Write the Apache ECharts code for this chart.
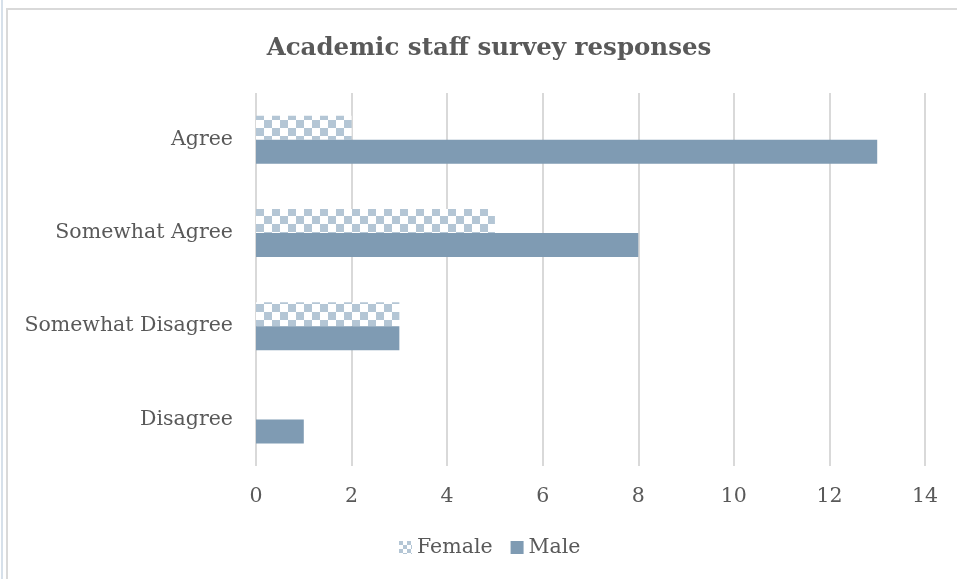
<!DOCTYPE html>
<html>
<head>
<meta charset="utf-8">
<script src="https://cdn.jsdelivr.net/npm/echarts@6/dist/echarts.min.js"></script>
<style>
  html, body { margin: 0; padding: 0; background: #ffffff; }
  #frame { position: absolute; left: 6px; top: 8px; width: 960px; height: 580px;
           border-left: 2px solid #d9d9d9; border-top: 2px solid #d9d9d9; box-sizing: border-box; }
  #edge { position: absolute; left: 1px; top: 0; width: 2px; height: 579px; background: #d6e0ea; }
  #chart { position: absolute; left: 0; top: 0; width: 957px; height: 579px; }
</style>
</head>
<body>
<div id="edge"></div>
<div id="frame"></div>
<div id="chart"></div>
<script>
const categories = ['Agree', 'Somewhat Agree', 'Somewhat Disagree', 'Disagree'];
const femaleValues = [2, 5, 3, 0];
const maleValues = [13, 8, 3, 1];
const xTicks = { min: 0, max: 14, interval: 2 };

const FONT = '"DejaVu Serif", Georgia, serif';
const TEXT = '#595959';
const MALE = '#7f9bb3';
const FEMALE = '#b4c6d5';

// Small checkerboard fill for the Female bars
function checker(size) {
  const c = document.createElement('canvas');
  c.width = size * 2; c.height = size * 2;
  const ctx = c.getContext('2d');
  ctx.fillStyle = '#ffffff';
  ctx.fillRect(0, 0, size * 2, size * 2);
  ctx.fillStyle = FEMALE;
  ctx.fillRect(0, 0, size, size);
  ctx.fillRect(size, size, size, size);
  return { image: c, repeat: 'repeat' };
}
const femaleFill = checker(8);
const legendFill = checker(4);

const chart = echarts.init(document.getElementById('chart'), null, { renderer: 'canvas' });
chart.setOption({
  animation: false,
  backgroundColor: 'transparent',
  title: {
    text: 'Academic staff survey responses',
    left: 484, top: 31, textAlign: 'center',
    textStyle: { fontFamily: FONT, fontSize: 24.5, fontWeight: 'bold', color: TEXT }
  },
  legend: {
    bottom: 16, left: 394,
    itemWidth: 13, itemHeight: 13, itemGap: 18,
    textStyle: { fontFamily: FONT, fontSize: 20.5, color: TEXT, padding: [0, 0, 0, 0] },
    data: [
      { name: 'Female', icon: 'rect', itemStyle: { color: legendFill } },
      { name: 'Male', icon: 'rect' }
    ]
  },
  grid: { left: 256, right: 32, top: 93, bottom: 113, containLabel: false },
  xAxis: {
    type: 'value', min: xTicks.min, max: xTicks.max, interval: xTicks.interval,
    axisLine: { show: false }, axisTick: { show: false },
    splitLine: { lineStyle: { color: '#d9d9d9', width: 2 } },
    axisLabel: { fontFamily: FONT, fontSize: 20.5, color: TEXT, margin: 20 }
  },
  yAxis: {
    type: 'category', data: categories, inverse: true,
    axisLine: { show: false }, axisTick: { show: false },
    axisLabel: { fontFamily: FONT, fontSize: 20.5, color: TEXT, margin: 23 }
  },
  series: [
    { name: 'Female', type: 'bar', data: femaleValues, barWidth: 24, barGap: '0%',
      itemStyle: { color: femaleFill } },
    { name: 'Male', type: 'bar', data: maleValues, barWidth: 24, barGap: '0%',
      itemStyle: { color: MALE } }
  ]
});
</script>
</body>
</html>
